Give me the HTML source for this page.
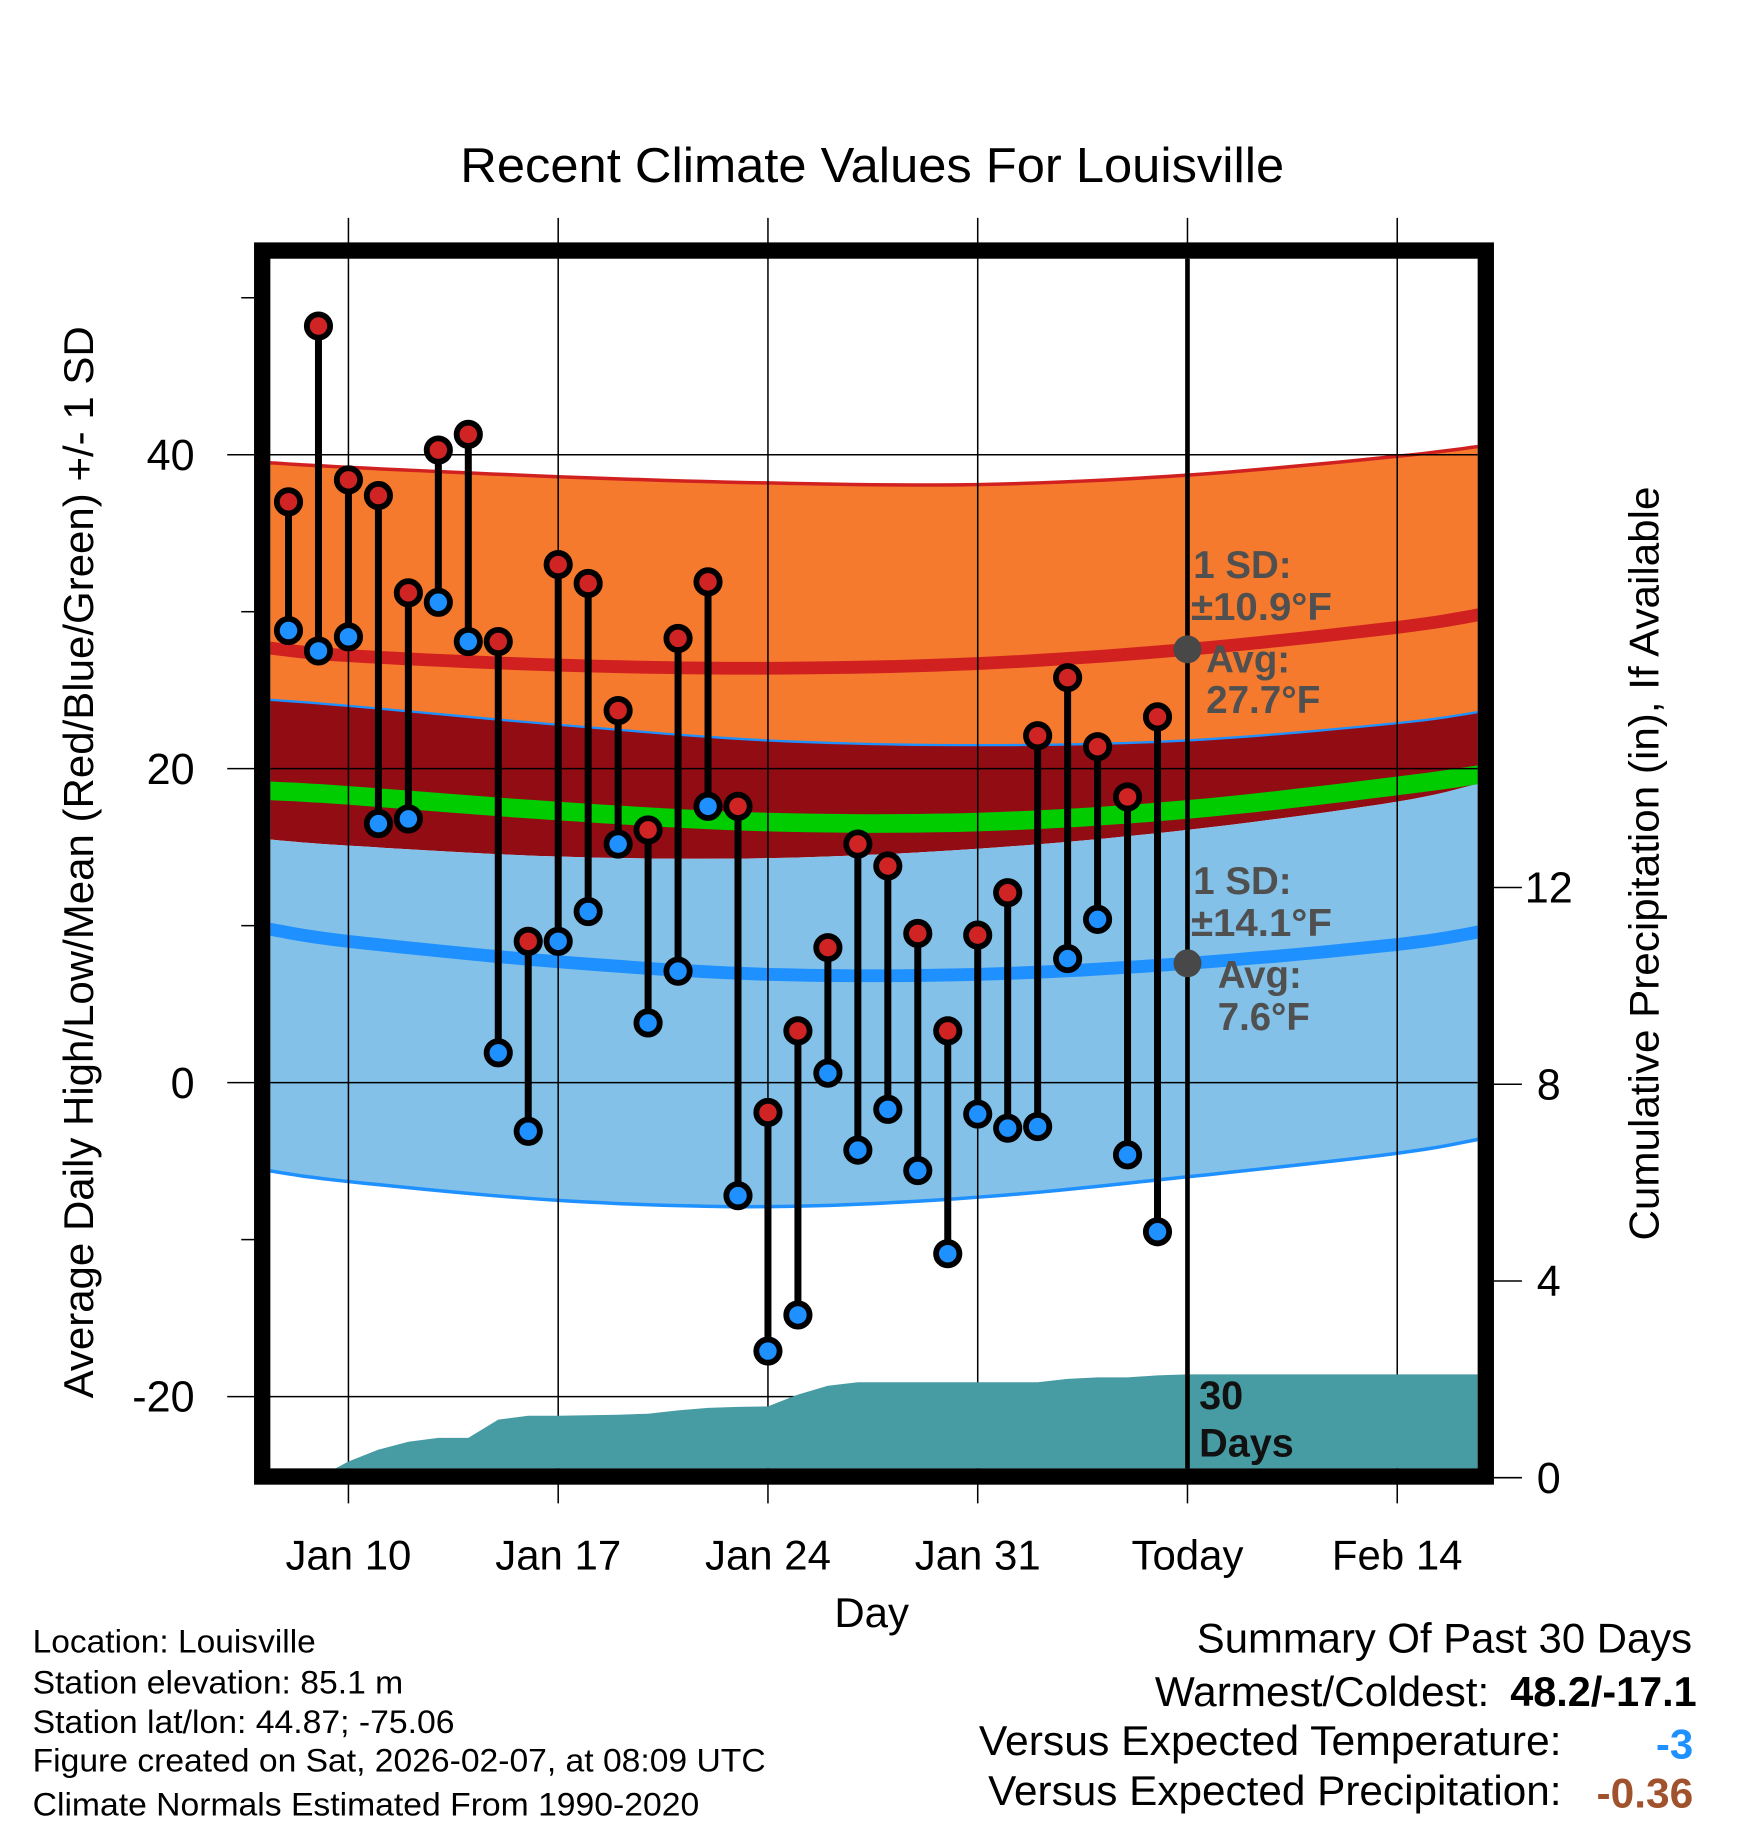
<!DOCTYPE html>
<html><head><meta charset="utf-8"><style>
html,body{margin:0;padding:0;background:#fff;}
svg{display:block;font-family:"Liberation Sans",Arial,sans-serif;}
</style></head><body>
<svg id="chart" width="1748" height="1828" viewBox="0 0 1500 1568.6" preserveAspectRatio="none" xmlns="http://www.w3.org/2000/svg">
<defs><clipPath id="plotclip"><rect x="232" y="222" width="1036" height="1038"/></clipPath></defs>
<g id="bands" clip-path="url(#plotclip)"></g>
<g id="grid"></g>
<g id="precip" clip-path="url(#plotclip)"></g>
<g id="marks"></g>
<g id="frame"></g>
<g id="texts">
<text x="395" y="156" font-size="42" textLength="707" lengthAdjust="spacingAndGlyphs">Recent Climate Values For Louisville</text>
<text x="748" y="1396" font-size="36" text-anchor="middle">Day</text>
<text transform="translate(80,740) rotate(-90)" font-size="36" text-anchor="middle" textLength="920" lengthAdjust="spacingAndGlyphs">Average Daily High/Low/Mean (Red/Blue/Green) +/- 1 SD</text>
<text transform="translate(1423,741) rotate(-90)" font-size="36" text-anchor="middle" textLength="647" lengthAdjust="spacingAndGlyphs">Cumulative Precipitation (in), If Available</text>
<g font-size="33" font-weight="bold" fill="#505050">
<text x="1024" y="496">1 SD:</text>
<text x="1022" y="532" textLength="121" lengthAdjust="spacingAndGlyphs">±10.9°F</text>
<text x="1035" y="577">Avg:</text>
<text x="1035" y="612" textLength="98" lengthAdjust="spacingAndGlyphs">27.7°F</text>
<text x="1024" y="767">1 SD:</text>
<text x="1022" y="803" textLength="121" lengthAdjust="spacingAndGlyphs">±14.1°F</text>
<text x="1045" y="848">Avg:</text>
<text x="1045" y="884" textLength="79" lengthAdjust="spacingAndGlyphs">7.6°F</text>
</g>
<g font-size="34" font-weight="bold" fill="#111">
<text x="1029" y="1209">30</text>
<text x="1029" y="1250">Days</text>
</g>
<g font-size="28" fill="#000">
<text x="28" y="1418" textLength="243" lengthAdjust="spacingAndGlyphs">Location: Louisville</text>
<text x="28" y="1453" textLength="318" lengthAdjust="spacingAndGlyphs">Station elevation: 85.1 m</text>
<text x="28" y="1487" textLength="362" lengthAdjust="spacingAndGlyphs">Station lat/lon: 44.87; -75.06</text>
<text x="28" y="1520" textLength="629" lengthAdjust="spacingAndGlyphs">Figure created on Sat, 2026-02-07, at 08:09 UTC</text>
<text x="28" y="1558" textLength="572" lengthAdjust="spacingAndGlyphs">Climate Normals Estimated From 1990-2020</text>
</g>
<g font-size="36">
<text x="1027" y="1418" textLength="425" lengthAdjust="spacingAndGlyphs">Summary Of Past 30 Days</text>
<text x="991" y="1464" textLength="287" lengthAdjust="spacingAndGlyphs">Warmest/Coldest:</text>
<text x="1296" y="1464" font-weight="bold" textLength="160" lengthAdjust="spacingAndGlyphs">48.2/-17.1</text>
<text x="840" y="1506" textLength="500" lengthAdjust="spacingAndGlyphs">Versus Expected Temperature:</text>
<text x="1453" y="1509" text-anchor="end" font-weight="bold" fill="#1e90ff">-3</text>
<text x="848" y="1549" textLength="492" lengthAdjust="spacingAndGlyphs">Versus Expected Precipitation:</text>
<text x="1370" y="1551" font-weight="bold" fill="#a0522d" textLength="83" lengthAdjust="spacingAndGlyphs">-0.36</text>
</g>
</g>
</svg>
<script>
// data
const days = [8,9,10,11,12,13,14,15,16,17,18,19,20,21,22,23,24,25,26,27,28,29,30,31,32,33,34,35,36,37];
const highs = [37,48.2,38.4,37.4,31.2,40.3,41.3,28.1,9,33,31.8,23.7,16.1,28.3,31.9,17.6,-1.9,3.3,8.6,15.2,13.8,9.5,3.3,9.4,12.1,22.1,25.8,21.4,18.2,23.3];
const lows = [28.8,27.5,28.4,16.5,16.8,30.6,28.1,1.9,-3.1,9,10.9,15.2,3.8,7.1,17.6,-7.2,-17.1,-14.8,0.6,-4.3,-1.7,-5.6,-10.9,-2.0,-2.9,-2.8,7.9,10.4,-4.6,-9.5];
const precipDays = [8,9,10,11,12,13,14,15,16,17,18,19,20,21,22,23,24,25,26,27,28,29,30,31,32,33,34,35,36,37,38,48];
const precipCum = [0,0,0.33,0.57,0.73,0.81,0.81,1.18,1.26,1.26,1.27,1.28,1.30,1.37,1.42,1.44,1.45,1.69,1.87,1.94,1.94,1.94,1.94,1.94,1.94,1.94,2.01,2.04,2.04,2.08,2.1,2.1];
const normDays = [7.3,10,17,24,31,38,45,48];
const highPlusSD = [39.5,39.2,38.6,38.2,38.1,38.7,39.9,40.6];
const highAvg = [27.7,27.2,26.6,26.4,26.7,27.6,29.0,29.9];
const highMinusSD = [24.4,24.0,22.8,21.8,21.5,21.8,22.9,23.7];
const meanAvg = [18.6,18.3,17.3,16.6,16.6,17.4,18.9,19.7];
const lowPlusSD = [15.5,15.1,14.4,14.3,14.9,16.1,17.9,19.2];
const lowAvg = [9.8,9.0,7.7,6.9,6.9,7.6,8.8,9.7];
const lowMinusSD = [-5.6,-6.3,-7.5,-7.9,-7.3,-6.0,-4.5,-3.5];
const xTickDays = [10,17,24,31,38,45];
const xTickLabels = ["Jan 10","Jan 17","Jan 24","Jan 31","Today","Feb 14"];
const yTicks = [40,20,0,-20];
const yMinor = [50,30,10,-10];
const y2Ticks = [0,4,8,12];
const todayDay = 38;

const NS="http://www.w3.org/2000/svg";
const X = d => 299 + (d-10)*180/7;
const Y = v => 929 - v*13.47;
const Y2 = p => 1268 - p*42.2;
function mk(tag, attrs, parent){const e=document.createElementNS(NS,tag);for(const k in attrs)e.setAttribute(k,attrs[k]);parent.appendChild(e);return e;}
const bands=document.getElementById('bands'), grid=document.getElementById('grid'), precip=document.getElementById('precip'), marks=document.getElementById('marks'), frame=document.getElementById('frame'), texts=document.getElementById('texts');
// smooth catmull-rom sampling
function smoothPts(arr){
  const P=normDays.map((d,i)=>[X(d),Y(arr[i])]);
  const out=[];
  for(let i=0;i<P.length-1;i++){
    const p0=P[Math.max(0,i-1)],p1=P[i],p2=P[i+1],p3=P[Math.min(P.length-1,i+2)];
    for(let s=0;s<10;s++){
      const t=s/10,t2=t*t,t3=t2*t;
      const f=(a,b,c,d)=>0.5*((2*b)+(-a+c)*t+(2*a-5*b+4*c-d)*t2+(-a+3*b-3*c+d)*t3);
      out.push([f(p0[0],p1[0],p2[0],p3[0]),f(p0[1],p1[1],p2[1],p3[1])]);
    }
  }
  out.push(P[P.length-1]);
  return out;
}
function line(arr){return smoothPts(arr).map(p=>p[0].toFixed(1)+','+p[1].toFixed(1)).join(' ');}
function band(top,bot){return smoothPts(top).concat(smoothPts(bot).reverse()).map(p=>p[0].toFixed(1)+','+p[1].toFixed(1)).join(' ');}
let e;
e=mk('polygon',{points:band(highPlusSD,highMinusSD),fill:'#f57a2e'},bands);


e=mk('polygon',{points:band(highMinusSD,lowPlusSD),fill:'#920c14'},bands);


e=mk('polygon',{points:band(lowPlusSD,lowMinusSD),fill:'#83c1e8'},bands);


e=mk('polyline',{points:line(meanAvg),fill:'none',stroke:'#00cc00','stroke-width':16},bands);


e=mk('polyline',{points:line(highPlusSD),fill:'none',stroke:'#d02020','stroke-width':3},bands);


e=mk('polyline',{points:line(highMinusSD),fill:'none',stroke:'#1e90ff','stroke-width':2},bands);


e=mk('polyline',{points:line(lowMinusSD),fill:'none',stroke:'#1e90ff','stroke-width':3},bands);


e=mk('polyline',{points:line(highAvg),fill:'none',stroke:'#d02020','stroke-width':11},bands);


e=mk('polyline',{points:line(lowAvg),fill:'none',stroke:'#1e90ff','stroke-width':11},bands);


// grid
xTickDays.forEach((d,i)=>{
  e=mk('line',{x1:X(d),x2:X(d),y1:187,y2:1290,stroke:'#000','stroke-width':1.3},grid);
  
  
  e=mk('text',{x:X(d),y:1347,'font-size':36,'text-anchor':'middle'},texts);
  e.textContent=xTickLabels[i];
  
  
});
yTicks.forEach(v=>{
  e=mk('line',{x1:195,x2:1268,y1:Y(v),y2:Y(v),stroke:'#000','stroke-width':1.3},grid);
  
  
  e=mk('text',{x:167,y:Y(v)+13,'font-size':37,'text-anchor':'end'},texts);
  e.textContent=String(v);
  
  
});
yMinor.forEach(v=>{
  e=mk('line',{x1:207,x2:218,y1:Y(v),y2:Y(v),stroke:'#000','stroke-width':1.3},grid);
  
  
});
y2Ticks.forEach(p=>{
  e=mk('line',{x1:1282,x2:1306,y1:Y2(p),y2:Y2(p),stroke:'#000','stroke-width':1.3},grid);
  
  
  e=mk('text',{x:1329,y:Y2(p)+13,'font-size':37,'text-anchor':'middle'},texts);
  e.textContent=String(p);
  
  
});
// precip
let pts=precipDays.map((d,i)=>X(d)+','+Y2(precipCum[i]));
pts.push(X(precipDays[precipDays.length-1])+','+Y2(0));
pts.push(X(precipDays[0])+','+Y2(0));
e=mk('polygon',{points:pts.join(' '),fill:'#479ba3'},precip);


// today line
e=mk('line',{x1:X(todayDay),x2:X(todayDay),y1:222,y2:1260,stroke:'#000','stroke-width':4},marks);


e=mk('circle',{cx:X(todayDay),cy:Y(highAvg[5]),r:12,fill:'#484848'},marks);


e=mk('circle',{cx:X(todayDay),cy:Y(lowAvg[5]),r:12,fill:'#484848'},marks);


// daily
days.forEach((d,i)=>{
  e=mk('line',{x1:X(d),x2:X(d),y1:Y(highs[i]),y2:Y(lows[i]),stroke:'#000','stroke-width':6},marks);
  
  
});
days.forEach((d,i)=>{
  e=mk('circle',{cx:X(d),cy:Y(highs[i]),r:10,fill:'#d02424',stroke:'#000','stroke-width':5},marks);
  
  
  e=mk('circle',{cx:X(d),cy:Y(lows[i]),r:10,fill:'#1e90ff',stroke:'#000','stroke-width':5},marks);
  
  
});
e=mk('rect',{x:225,y:215,width:1050,height:1052,fill:'none',stroke:'#000','stroke-width':14},frame);


</script>
</body></html>
